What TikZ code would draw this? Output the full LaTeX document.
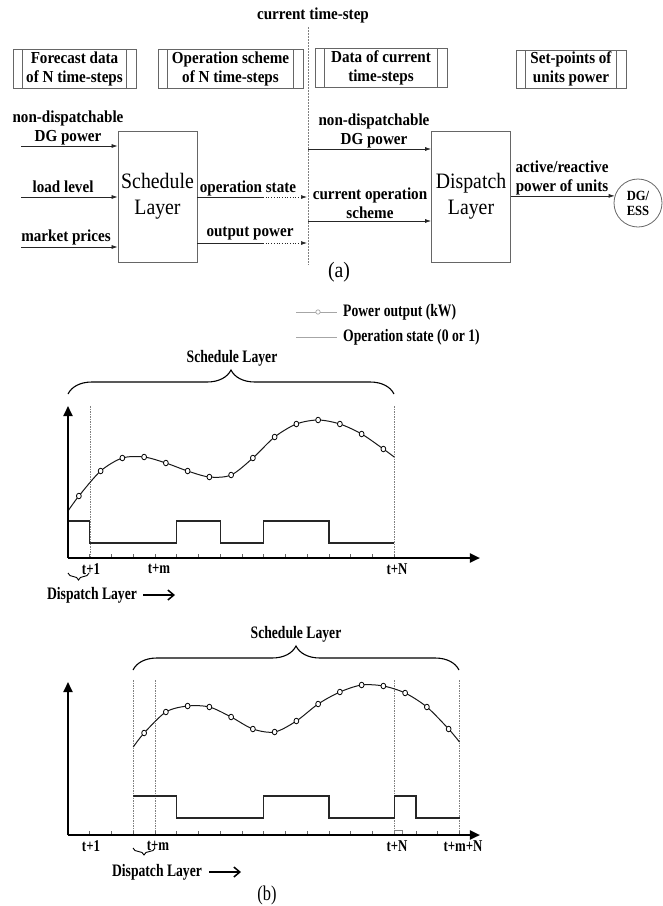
\documentclass[tikz,border=0pt]{standalone}
\usepackage{fontspec}
\setmainfont{Liberation Serif}
\newfontfamily\topf{Liberation Serif}[FakeStretch=0.9]
\newfontfamily\chf{Liberation Serif}[FakeStretch=0.78]
\usetikzlibrary{arrows.meta,decorations.pathreplacing,calc}
\begin{document}
\begin{tikzpicture}[x=1pt,y=-1pt,
  lbl/.style={font=\topf\bfseries\fontsize{16.8}{19}\selectfont, align=center, inner sep=0pt},
  clbl/.style={font=\chf\bfseries\fontsize{17.5}{19}\selectfont, inner sep=0pt},
  tlbl/.style={font=\chf\bfseries\fontsize{16.5}{18}\selectfont, inner sep=0pt},
  procbox/.style={draw=gray!80!black, line width=0.8pt, align=center, inner sep=0pt,
    font=\topf\bfseries\fontsize{16.8}{19}\selectfont,
    path picture={\draw[gray!80!black, line width=0.8pt]
      ([xshift=9.5pt]path picture bounding box.north west) -- ([xshift=9.5pt]path picture bounding box.south west)
      ([xshift=-9.5pt]path picture bounding box.north east) -- ([xshift=-9.5pt]path picture bounding box.south east);}},
  layerbox/.style={draw=gray!80!black, line width=0.8pt, minimum width=79pt, minimum height=131pt,
    align=center, font=\topf\fontsize{22}{26}\selectfont, inner sep=0pt},
  arr/.style={draw=black!85, line width=0.7pt, -{Latex[length=6pt,width=4pt]}},
  plainln/.style={draw=black!85, line width=0.7pt},
  dotln/.style={draw=black!85, line width=0.7pt, dotted},
  ctline/.style={draw=gray, line width=0.6pt, dash pattern=on 1.5pt off 1.5pt},
  axisln/.style={line width=2pt, -{Triangle[length=10pt,width=9pt]}},
  stateln/.style={line width=1.1pt, draw=black!85},
  curveln/.style={line width=1pt, draw=black!90},
  mk/.style={draw=black, fill=white, line width=0.8pt},
  vdash/.style={draw=gray, line width=0.5pt, dash pattern=on 1.5pt off 1pt},
  tickln/.style={draw=gray!80!black, line width=0.6pt},
  legln/.style={draw=gray!70, line width=0.8pt},
  bigbrace/.style={decorate, decoration={brace, amplitude=24pt}, line width=1.1pt},
  smallbrace/.style={decorate, decoration={brace, amplitude=7pt}, line width=0.9pt},
  darr/.style={line width=1.5pt, -{Straight Barb[length=6pt,width=10pt]}}
]
\useasboundingbox (0,0) rectangle (663,906);

% ---------------- (a) block diagram ----------------
\node[procbox, minimum width=123pt, minimum height=39pt] (b1) at (74.5,68.5) {Forecast data\\of N time-steps};
\node[procbox, minimum width=145pt, minimum height=39pt] (b2) at (230.5,68.5) {Operation scheme\\of N time-steps};
\node[procbox, minimum width=132pt, minimum height=39pt] (b3) at (381,67.5) {Data of current\\time-steps};
\node[procbox, minimum width=110pt, minimum height=38pt] (b4) at (571,69) {Set-points of\\units power};

\node[lbl] (ct) at (313,15) {current time-step};
\coordinate (ctTop) at (308,27);
\coordinate (ctBot) at (308,265);
\draw[ctline] (ctTop) -- (ctBot);

\node[layerbox] (sched) at (157.5,196.5) {Schedule\\Layer};
\node[layerbox] (disp) at (471,196.5) {Dispatch\\Layer};

% inputs to schedule layer
\coordinate (inDG) at (21,146);
\coordinate (inLL) at (21,197);
\coordinate (inMP) at (21,247);
\draw[arr] (inDG) -- (inDG -| sched.west);
\draw[arr] (inLL) -- (inLL -| sched.west);
\draw[arr] (inMP) -- (inMP -| sched.west);
\node[lbl] (tDG) at (68,127.5) {non-dispatchable\\DG power};
\node[lbl] (tLL) at (63,187) {load level};
\node[lbl] (tMP) at (66,237) {market prices};

% outputs of schedule layer
\coordinate (osMid) at (263,197);
\coordinate (osEnd) at (307,197);
\coordinate (opMid) at (263,243);
\coordinate (opEnd) at (307,243);
\draw[plainln] (sched.east |- osMid) -- (osMid);
\draw[dotln, -{Latex[length=6pt,width=4pt]}] (osMid) -- (osEnd);
\draw[plainln] (sched.east |- opMid) -- (opMid);
\draw[dotln, -{Latex[length=6pt,width=4pt]}] (opMid) -- (opEnd);
\node[lbl] (tOS) at (248,188) {operation state};
\node[lbl] (tOP) at (250,234) {output power};

% inputs to dispatch layer
\coordinate (rDG) at (308,149);
\coordinate (rCS) at (308,221);
\draw[arr] (rDG) -- (rDG -| disp.west);
\draw[arr] (rCS) -- (rCS -| disp.west);
\node[lbl] (tRDG) at (374,131) {non-dispatchable\\DG power};
\node[lbl] (tRCS) at (370,203.5) {current operation\\scheme};

% output of dispatch layer
\node[draw=gray!80!black, line width=0.8pt, circle, minimum size=48pt, inner sep=0pt,
      align=center, font=\topf\bfseries\fontsize{14}{15}\selectfont] (dgess) at (638,203) {DG/\\ESS};
\draw[arr] (disp.east |- dgess.163) -- (dgess.163);
\node[lbl] (tAR) at (562,178) {active/reactive\\power of units};

\node[font=\topf\fontsize{22}{24}\selectfont, inner sep=0pt] (capa) at (339,272) {(a)};

% ---------------- legend ----------------
\coordinate (lg1a) at (296,312);
\coordinate (lg1b) at (337,312);
\coordinate (lg2a) at (296,337);
\coordinate (lg2b) at (337,337);
\draw[legln] (lg1a) -- (lg1b);
\draw[draw=gray!70, fill=white, line width=0.7pt] (318,312) circle[radius=2.2pt];
\draw[legln] (lg2a) -- (lg2b);
\node[clbl, anchor=west] (lgt1) at (343,312) {Power output (kW)};
\node[clbl, anchor=west] (lgt2) at (343,337) {Operation state (0 or 1)};

% ---------------- chart 1 ----------------
\node[clbl] (sl1) at (232,358) {Schedule Layer};
\draw[bigbrace] (68,394) -- (394,394);
\begin{scope}[x=21.75pt, xshift=68pt]
  \foreach \k in {1,15} \draw[vdash] (\k,406) -- (\k,558);
  \foreach \k in {1,...,15} \draw[tickln] (\k,558) -- (\k,554);
  \draw[stateln] (0,521) -- (1,521) -- (1,543) -- (5,543) -- (5,521) -- (7,521) -- (7,543)
     -- (9,543) -- (9,521) -- (12,521) -- (12,543) -- (15,543);
  \draw[curveln] plot[smooth] coordinates {(0,511) (0.5,496) (1.5,471) (2.5,458) (3.5,457)
     (4.5,463) (5.5,471) (6.5,477) (7.5,475) (8.5,458) (9.5,437) (10.5,424) (11.5,420)
     (12.5,424) (13.5,434) (14.5,449) (15,457)};
  \foreach \a/\b in {0.5/496,1.5/471,2.5/458,3.5/457,4.5/463,5.5/471,6.5/477,7.5/475,8.5/458,
     9.5/437,10.5/424,11.5/420,12.5/424,13.5/434,14.5/449}
     \draw[mk] (\a,\b) circle[x radius=2.4pt, y radius=2.8pt];
  \draw[axisln] (0,558) -- (0,406);
  \draw[axisln] (0,558) -- (18.94,558);
\end{scope}
\node[tlbl] (x1a) at (91,569) {t+1};
\node[tlbl] (x1b) at (159,569) {t+m};
\node[tlbl] (x1c) at (397,569) {t+N};
\draw[smallbrace] (89,573) -- (68,573);
\node[clbl] (dl1) at (92,595) {Dispatch Layer};
\coordinate (da1a) at (143,595);
\coordinate (da1b) at (175,595);
\draw[darr] (da1a) -- (da1b);

% ---------------- chart 2 ----------------
\node[clbl] (sl2) at (296,634) {Schedule Layer};
\draw[bigbrace] (133,670) -- (459,670);
\begin{scope}[x=21.75pt, xshift=68pt]
  \foreach \k in {3,4,15,18} \draw[vdash] (\k,680) -- (\k,835);
  \foreach \k in {1,...,18} \draw[tickln] (\k,835) -- (\k,831);
  \draw[draw=gray, line width=0.5pt] (15,835) -- (15,830) -- (15.35,830) -- (15.35,835);
  \draw[stateln] (3,796) -- (5,796) -- (5,818) -- (9,818) -- (9,796) -- (12,796) -- (12,818)
     -- (15,818) -- (15,796) -- (16,796) -- (16,818) -- (18,818);
  \draw[curveln] plot[smooth] coordinates {(3,747) (3.5,733) (4.5,712) (5.5,706) (6.5,707)
     (7.5,717) (8.5,729) (9.5,732) (10.5,721) (11.5,704) (12.5,692) (13.5,685) (14.5,686)
     (15.5,693) (16.5,707) (17.5,729) (18,742)};
  \foreach \a/\b in {3.5/733,4.5/712,5.5/706,6.5/707,7.5/717,8.5/729,9.5/732,10.5/721,
     11.5/704,12.5/692,13.5/685,14.5/686,15.5/693,16.5/707,17.5/729}
     \draw[mk] (\a,\b) circle[x radius=2.4pt, y radius=2.8pt];
  \draw[axisln] (0,835) -- (0,682);
  \draw[axisln] (0,835) -- (18.94,835);
\end{scope}
\node[tlbl] (x2a) at (91,846) {t+1};
\node[tlbl] (x2b) at (158,846) {t+m};
\node[tlbl] (x2c) at (397,846) {t+N};
\node[tlbl] (x2d) at (463,846) {t+m+N};
\draw[smallbrace] (155,848) -- (133,848);
\node[clbl] (dl2) at (157,872) {Dispatch Layer};
\coordinate (da2a) at (209,872);
\coordinate (da2b) at (241,872);
\draw[darr] (da2a) -- (da2b);

\node[font=\chf\fontsize{21}{23}\selectfont, inner sep=0pt] (capb) at (267,895) {(b)};
\end{tikzpicture}
\end{document}
